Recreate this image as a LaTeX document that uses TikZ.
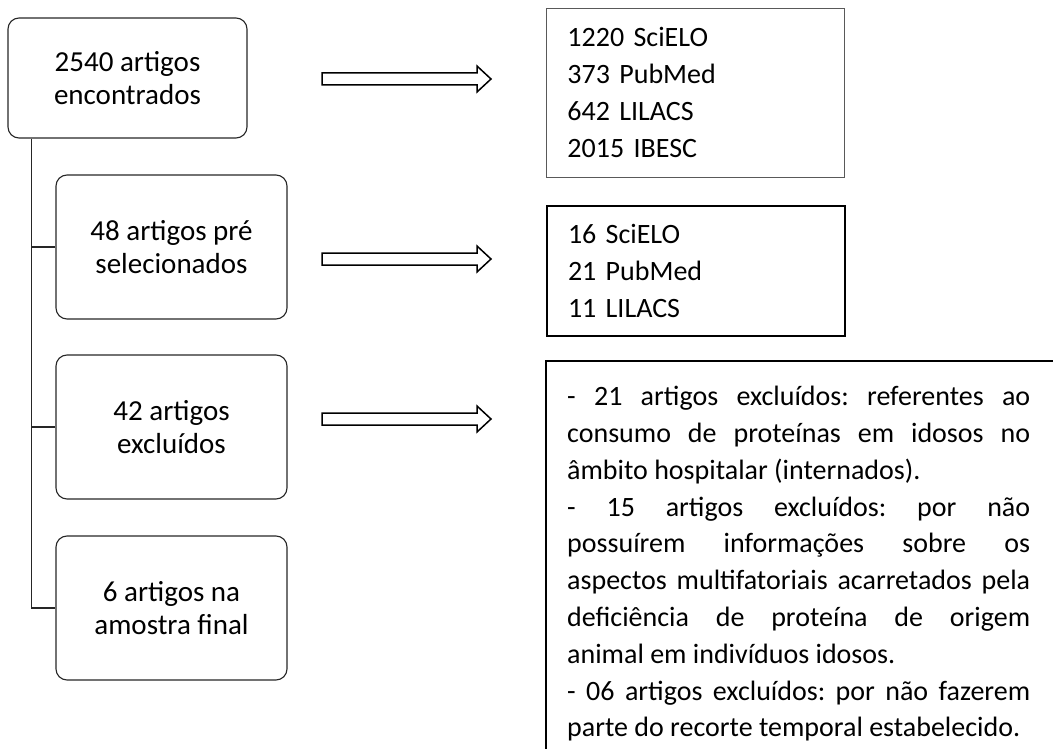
\documentclass[tikz,border=0pt]{standalone}
\usepackage{fontspec}
\setmainfont{Carlito}
\frenchspacing
\tikzset{
    stage/.style={draw=black!85, line width=1.1pt, rounded corners=11pt, align=center, font=\fontsize{29}{33}\selectfont}, % caixas da esquerda
    list box/.style={anchor=north west, align=left, inner xsep=21pt, font=\fontsize{28}{37}\selectfont}, % caixas das bases
    fat arrow/.style={draw=black, line width=1.5pt, fill=white}, % setas largas
    link/.style={draw=black!85, line width=1.1pt}
}
\begin{document}
\begin{tikzpicture}[x=1pt, y=-1pt]
    \useasboundingbox (0,0) rectangle (1053,749);
    \clip (0,0) rectangle (1053,749);

    \node[stage, minimum width=239pt, minimum height=120pt] (found) at (127.5,78) {2540 artigos\\encontrados};
    \node[stage, minimum width=231pt, minimum height=144pt] (pre) at (171.5,247) {48 artigos pré\\selecionados};
    \node[stage, minimum width=231pt, minimum height=144pt] (excl) at (171.5,427) {42 artigos\\excluídos};
    \node[stage, minimum width=231pt, minimum height=144pt] (final) at (171.5,608) {6 artigos na\\amostra final};

    \draw[link] ([xshift=24pt]found.south west) coordinate (trunk) |- (final.west);
    \foreach \n in {pre,excl} {\draw[link] (trunk |- \n.west) -- (\n.west);}

    \foreach \y in {79,259,419} {\draw[fat arrow] (322,\y-6) -- (477,\y-6) -- (477,\y-13) -- (491,\y) -- (477,\y+13) -- (477,\y+6) -- (322,\y+6) -- cycle;}

    \node[list box, draw=black!65, line width=0.9pt, text width=256pt, minimum height=169pt] (srcA) at (546,8) {1220 SciELO\\373 PubMed\\642 LILACS\\2015 IBESC};
    \node[list box, draw=black, line width=2pt, text width=256pt, minimum height=130pt] (srcB) at (546,205) {16 SciELO\\21 PubMed\\11 LILACS};

    \node[anchor=north west, text width=463pt, align=justify, inner xsep=21pt, inner ysep=25pt, font=\fontsize{28}{36.8}\selectfont] (crit) at (546,361) {%
        - 21 artigos excluídos: referentes ao\linebreak consumo de proteínas em idosos no\linebreak âmbito hospitalar (internados).\par
        - 15 artigos excluídos: por não\linebreak possuírem informações sobre os\linebreak aspectos multifatoriais acarretados pela\linebreak deficiência de proteína de origem\linebreak animal em indivíduos idosos.\par
        - 06 artigos excluídos: por não fazerem\linebreak parte do recorte temporal estabelecido.};
    \draw[line width=2pt] (crit.north west) rectangle ++(560,420);
\end{tikzpicture}
\end{document}
